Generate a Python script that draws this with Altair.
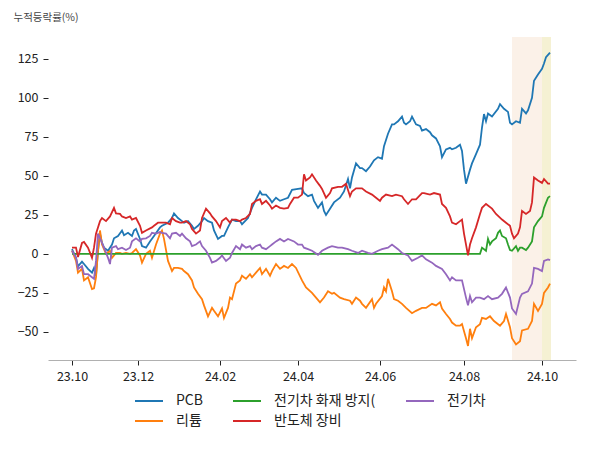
import altair as alt
import pandas as pd

series_names = ["PCB", "리튬", "전기차 화재 방지(", "반도체 장비", "전기차"]
series_colors = ["#1f77b4", "#ff7f0e", "#2ca02c", "#d62728", "#9467bd"]

tick_days = [0, 33, 74, 113, 154, 196, 235]
tick_labels = ["23.10", "23.12", "24.02", "24.04", "24.06", "24.08", "24.10"]
y_ticks = [-50, -25, 0, 25, 50, 75, 100, 125]

pcb_day = [0, 2, 3, 5, 6, 8, 10, 11, 12, 13, 14, 15, 16, 18, 20, 21, 23, 25, 26, 28, 30, 31, 32, 34, 35, 37, 39, 41, 44, 45, 48, 50, 51, 53, 55, 56, 58, 60, 61, 63, 65, 66, 68, 70, 71, 73, 75, 76, 78, 80, 82, 84, 85, 88, 90, 92, 94, 95, 97, 99, 100, 102, 104, 106, 108, 110, 113, 115, 116, 118, 120, 121, 123, 125, 126, 127, 129, 131, 134, 136, 138, 139, 140, 142, 144, 145, 147, 149, 151, 153, 155, 156, 158, 160, 161, 163, 165, 166, 167, 169, 170, 172, 174, 175, 177, 179, 180, 182, 184, 185, 187, 189, 190, 192, 194, 195, 196, 197, 199, 200, 202, 204, 205, 206, 207, 208, 210, 213, 214, 216, 218, 219, 220, 222, 224, 225, 227, 228, 230, 231, 233, 235, 236, 237, 239]
pcb_val = [3, -2.5, -8, -5, -6.5, -9.6, -12, -9, -14, 2, 13, 7, 4, 2, 6, 10, 11.5, 15, 12, 13.5, 11.5, 15, 16, 9.6, 5, 4, 8, 11.5, 17, 18, 20, 23, 26, 23, 21, 20, 21, 18, 16, 18, 21, 23, 21, 20, 15, 9.6, 11.5, 11.5, 17, 22, 21, 21, 19, 23, 29.5, 35, 40, 38, 38, 35, 33, 36, 34, 35, 36, 41, 41.6, 42, 39, 37, 38, 34, 29.5, 33, 27.5, 25, 29, 33, 36, 40, 48, 42, 49, 58, 55, 55, 53, 56, 60, 62, 61, 69, 77, 83, 83, 85, 88, 84, 83, 85, 88, 83, 82, 79, 80, 78, 76, 74, 69, 62, 67, 68, 67, 68, 70, 66, 54, 45, 54, 58, 64, 70, 81, 89.6, 85, 90, 88, 93, 96, 93, 91, 84, 83, 85, 84, 93, 90, 92, 100, 111, 115, 118.6, 122, 126, 129]

lit_day = [0, 2, 3, 5, 6, 8, 10, 11, 12, 13, 14, 15, 17, 19, 20, 22, 24, 25, 27, 29, 30, 32, 34, 35, 37, 39, 40, 42, 44, 45, 46, 48, 50, 51, 53, 55, 56, 58, 60, 61, 63, 65, 66, 68, 70, 71, 73, 75, 76, 78, 79, 80, 82, 84, 85, 87, 89, 90, 92, 94, 95, 97, 99, 100, 102, 104, 106, 108, 110, 112, 115, 117, 120, 122, 124, 126, 128, 130, 131, 134, 136, 139, 140, 142, 144, 145, 147, 150, 151, 152, 155, 156, 157, 158, 160, 161, 163, 165, 167, 170, 172, 175, 177, 180, 182, 184, 185, 187, 189, 190, 192, 194, 195, 197, 198, 199, 200, 202, 204, 205, 207, 209, 211, 214, 216, 217, 219, 220, 222, 224, 225, 228, 230, 231, 233, 235, 236, 238, 239]
lit_val = [2, -4.5, -12, -9.6, -17, -15, -22.5, -22, -15, 2, 15, 6, 0, 2, -2.5, 0.6, 0.6, 0, 0.6, 0, 0.6, 3, -1, -5.6, 0, 2, -2.5, 6, 13, 15, 9.6, -4.5, -11, -9, -9, -9.6, -11, -13, -17, -21.5, -25.6, -29, -33, -40, -34.6, -36.5, -40, -35, -41, -34.6, -28, -29, -19, -17, -14, -16, -13, -15, -12, -9, -13, -9.6, -14, -11, -6.5, -9.6, -7.7, -9, -6.5, -9, -17, -21.5, -25, -28, -31, -28, -24, -25.6, -25, -28, -29, -30, -32, -28, -30, -32, -34.6, -29, -34.6, -32, -27, -21.5, -24, -16, -24, -29, -30, -32, -34.6, -38, -36.5, -34.6, -34.6, -32, -33, -31, -35, -38.5, -41.7, -44, -46, -46, -45, -54, -59, -48, -54, -47, -45, -41, -41.7, -40, -43, -46, -43, -38.5, -47, -54, -58, -56, -49, -48, -43, -32, -36.5, -32, -25, -21.5, -19]

fire_day = [0, 204, 205, 207, 208, 209, 210, 212, 213, 214, 215, 217, 218, 219, 220, 222, 223, 224, 225, 227, 228, 230, 231, 233, 235, 236, 238, 239]
fire_val = [0, 0, 4, 2, 9.6, 6, 8, 10, 13.5, 15, 11.5, 10, 6, 2.5, 2, 5, 2, 4, 4, 2.5, 4, 8, 17, 21, 24, 29.5, 36, 37]

semi_day = [0, 2, 3, 5, 6, 8, 10, 11, 12, 14, 15, 17, 19, 21, 22, 24, 25, 27, 29, 30, 32, 34, 35, 37, 40, 41, 43, 45, 47, 49, 50, 52, 54, 55, 57, 59, 60, 62, 64, 65, 67, 69, 70, 72, 74, 75, 77, 79, 80, 82, 84, 85, 87, 89, 90, 92, 94, 95, 97, 99, 100, 102, 104, 106, 108, 109, 111, 113, 115, 116, 117, 119, 120, 122, 124, 125, 127, 129, 130, 133, 135, 137, 139, 140, 142, 145, 147, 150, 152, 154, 155, 157, 160, 162, 165, 166, 168, 170, 172, 175, 176, 179, 181, 184, 185, 187, 189, 190, 192, 194, 195, 196, 198, 199, 200, 202, 204, 205, 207, 210, 212, 215, 217, 219, 220, 221, 223, 224, 225, 227, 229, 230, 231, 233, 235, 236, 238, 239]
semi_val = [4, 4, -2, 7, 7.7, 4, -2.5, 4, 13, 21, 23, 21, 24, 29.5, 26, 25.6, 24, 23, 24, 22, 23, 18, 13.5, 15, 17, 18, 20, 20, 20, 19, 23, 21, 20, 20, 21, 19, 16, 13, 15, 23, 29, 26, 24, 21, 17, 21, 23, 20, 22, 22, 21, 22, 23, 25.6, 32, 34, 35, 32, 34, 31, 29, 31, 29.5, 29, 29.5, 32, 36, 36, 38, 51, 47, 49, 51, 47, 43.6, 41.6, 36, 39, 42, 43, 43, 45, 37, 40, 42, 42, 40, 38, 36, 34, 36, 38, 37, 38, 37, 35, 32, 35, 35, 39, 39, 38, 39, 38, 32, 29.5, 24, 20, 19, 21, 22, 13, -1, 6, 10, 17, 25.6, 29.5, 32, 29, 25.6, 22, 20, 18, 13, 10, 13, 17, 27.5, 25.6, 27.5, 33, 49, 47, 45.5, 48, 45, 45]

ev_day = [0, 2, 3, 5, 6, 8, 10, 11, 12, 13, 15, 16, 18, 19, 20, 22, 23, 25, 27, 29, 30, 32, 34, 35, 37, 39, 40, 42, 44, 45, 47, 49, 50, 52, 54, 55, 57, 59, 60, 62, 64, 65, 67, 69, 70, 72, 74, 75, 77, 79, 80, 82, 84, 85, 87, 89, 90, 92, 94, 95, 97, 99, 100, 102, 104, 106, 108, 111, 113, 115, 116, 118, 120, 123, 125, 128, 130, 133, 135, 138, 140, 143, 145, 148, 150, 153, 155, 158, 160, 163, 165, 168, 170, 173, 175, 177, 180, 182, 185, 187, 189, 190, 192, 194, 195, 197, 198, 199, 200, 202, 204, 206, 208, 210, 213, 215, 217, 219, 220, 222, 224, 225, 228, 230, 231, 233, 235, 236, 238, 239]
ev_val = [2, -2.5, -9.6, -7.7, -13, -13, -15, -16, -4.5, 13, 7, 4, -2.5, -6.5, 4, 5, 3, 4, 2.5, 4, 8, 10, 8, 9.6, 10, 11.5, 13.5, 13, 14, 13.5, 13, 10, 13, 13.5, 11.5, 13, 10, 8, 5, 6, 8, 5, 2, -2.5, -5.6, -4.5, -2.5, -1, -4.5, -2.5, 0.6, 5, 3, 6, 4, 5, 3, 5, 6, 4, 3, 5, 6, 8, 9.6, 8, 9.6, 8, 6, 6, 4, 3, 2, -0.6, 2, 4, 5, 4, 4, 3, 2, 0.6, 2, 0.6, 0, 2, 3, 4, 6, 3, 0.6, -1, -4.5, -2.5, -1, -3.5, -5.6, -7.7, -9.6, -13, -17, -15, -17, -17, -17, -28, -33, -27, -31, -28, -28, -29, -27, -29, -28, -25.6, -21.5, -28, -35, -38.5, -28, -25.6, -24, -19, -9, -9.6, -11, -4.5, -3.5, -4]

shade_start = [220, 235]
shade_end = [235, 239.5]
shade_colors = ["#fbf1e8", "#f5f1d3"]

FONT = "Noto Sans CJK KR"
W, H = 528, 323

all_days = [pcb_day, lit_day, fire_day, semi_day, ev_day]
all_vals = [pcb_val, lit_val, fire_val, semi_val, ev_val]

label_map = ", ".join(f"'{d}': '{l}'" for d, l in zip(tick_days, tick_labels))
label_expr = f"{{{label_map}}}[toString(datum.value)]"

x_scale = alt.Scale(domain=[-12, 252], nice=False, zero=False)
y_scale = alt.Scale(domain=[-68, 139], nice=False, zero=False)

shade_df = pd.DataFrame({"s": shade_start, "e": shade_end, "c": shade_colors})
shade = alt.Chart(shade_df).mark_rect(opacity=1).encode(
    x=alt.X("s:Q", scale=x_scale,
            axis=alt.Axis(values=tick_days, labelExpr=label_expr, title=None,
                          grid=False, domainColor="#b0b0b0", tickColor="#222",
                          tickSize=5, labelFontSize=12.5, labelColor="#222",
                          labelFont=FONT, labelPadding=5)),
    x2="e:Q",
    y=alt.value(0),
    y2=alt.value(H),
    color=alt.Color("c:N", scale=None),
)

layers = [shade]
for name, days, vals in zip(series_names, all_days, all_vals):
    df = pd.DataFrame({"day": days, "value": vals, "series": name})
    layers.append(
        alt.Chart(df).mark_line(strokeWidth=1.8).encode(
            x=alt.X("day:Q", scale=x_scale),
            y=alt.Y("value:Q", scale=y_scale,
                    axis=alt.Axis(values=y_ticks, title="누적등락률(%)", titleAngle=0,
                                  titleAlign="left", titleX=-35, titleY=-17,
                                  titleBaseline="alphabetic", titleFontSize=10.5,
                                  titleFontWeight="normal", titleColor="#444",
                                  titleFont=FONT, domain=False, grid=False,
                                  tickColor="#222", tickSize=5, labelFontSize=12.5,
                                  labelColor="#222", labelFont=FONT, labelPadding=5)),
            color=alt.Color("series:N",
                            scale=alt.Scale(domain=series_names, range=series_colors),
                            legend=alt.Legend(title=None, orient="none", legendX=92, legendY=355,
                                              columns=3, symbolType="M-1.75,0H1.75", symbolSize=256,
                                              symbolStrokeWidth=2, labelFontSize=14,
                                              labelFont=FONT, labelColor="#222",
                                              labelOffset=18, columnPadding=26, rowPadding=4)),
        )
    )

chart = alt.layer(*layers).properties(
    width=W, height=H,
    padding={"left": 5, "top": 4, "right": 5, "bottom": 5},
).configure_view(stroke=None)

chart.save("out.html", embed_options={"renderer": "svg", "actions": False})
